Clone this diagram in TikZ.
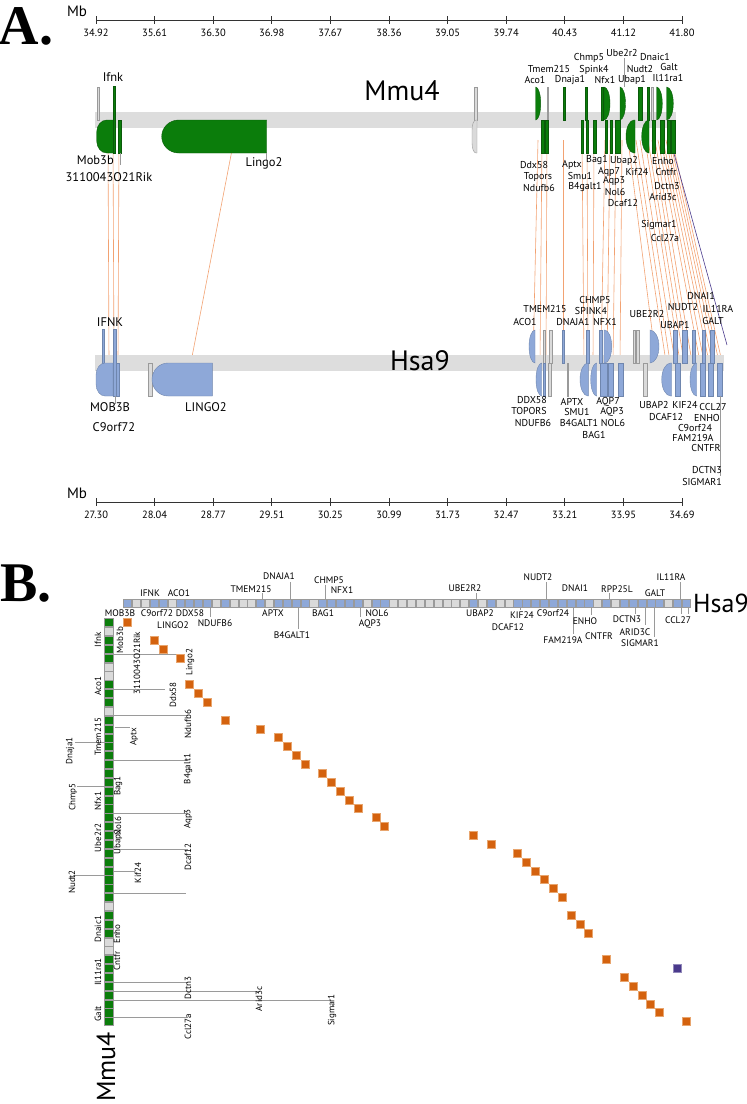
\documentclass[tikz,border=0pt]{standalone}
\usepackage{fontspec}
\setmainfont{PT Sans}
\newfontfamily\serifbf{Liberation Serif}
\definecolor{mgreen}{HTML}{0B7D0B}
\definecolor{mgreendark}{HTML}{0A5A0A}
\definecolor{hblue}{HTML}{8EA8D8}
\definecolor{hbluedark}{HTML}{6F86AE}
\definecolor{ggrey}{HTML}{DADADA}
\definecolor{gdark}{HTML}{9A9A9A}
\definecolor{synorange}{HTML}{F2A272}
\definecolor{bandgrey}{HTML}{DDDDDD}
\definecolor{dotorange}{HTML}{D4620E}
\definecolor{dotedge}{HTML}{E8A56E}
\definecolor{purp}{HTML}{4A3A8C}
\definecolor{tickgrey}{HTML}{9A9A9A}
\tikzset{
 lab/.style={font=\fontsize{10}{11}\selectfont, inner sep=0pt},
 biglab/.style={font=\fontsize{12.5}{13}\selectfont, inner sep=0pt},
 axlab/.style={font=\fontsize{10.5}{11}\selectfont, inner sep=0pt},
 blab/.style={font=\fontsize{9.5}{10}\selectfont, inner sep=0pt},
 rlab/.style={font=\fontsize{9}{10}\selectfont, inner sep=0pt, rotate=90},
 mm/.style={fill=mgreen, draw=mgreendark, line width=0.4pt},
 hs/.style={fill=hblue, draw=hbluedark, line width=0.4pt},
 gr/.style={fill=ggrey, draw=gdark, line width=0.4pt},
 syn/.style={draw=synorange, line width=0.6pt},
 dotbox/.style={fill=dotorange, draw=dotedge, line width=0.5pt},
 tk/.style={draw=tickgrey, line width=0.5pt},
 axisline/.style={draw=black!80, line width=1pt},
}
\newcommand\gbar[5]{\filldraw[#1] (#2,#4) rectangle (#3,#5);}
\newcommand\gL[7]{\filldraw[#1] (#3,#4) -- ({#2+#6},#4) arc[start angle=270,end angle=180,x radius=#6,y radius=#7] -- (#2,{#5-#7}) arc[start angle=180,end angle=90,x radius=#6,y radius=#7] -- (#3,#5) -- cycle;}
\newcommand\gR[7]{\filldraw[#1] (#2,#4) -- ({#3-#6},#4) arc[start angle=270,end angle=360,x radius=#6,y radius=#7] -- (#3,{#5-#7}) arc[start angle=0,end angle=90,x radius=#6,y radius=#7] -- (#2,#5) -- cycle;}
\begin{document}
\begin{tikzpicture}[x=1pt,y=-1pt]
\useasboundingbox (0,0) rectangle (747,1104);
% ---------- A ----------
\node[font=\serifbf\bfseries\fontsize{56}{56}\selectfont, inner sep=0pt] (labA) at (26,26) {A.};
\node[font=\fontsize{15}{15}\selectfont, inner sep=0pt] (mbtop) at (77,11) {Mb};
\draw[axisline] (96,20) coordinate (ta0) -- (682,20) coordinate (ta1);
\foreach \l [count=\i from 0] in {34.92,35.61,36.30,36.98,37.67,38.36,39.05,39.74,40.43,41.12,41.80}{
  \draw[black!80, line width=0.8pt] ({96+58.6*\i},16) -- ({96+58.6*\i},24);
  \node[axlab] (tl\i) at ({96+58.6*\i},33) {\l};
}
% synteny lines
\foreach \a/\b [count=\k] in {108/109,113/114,119/118,538/533,542/540,547/546,563/563,582/584,587/588,594/593,605/601,610/607,616/613,622/620,628/656,632/666,636/670,640/675,645/680,648/684,652/688,655/692,658/700,661/704,663/709,666/712,668/716,670/719,672/722}{
  \coordinate (ms\k) at (\a,140);
  \coordinate (hs\k) at (\b,362);
  \draw[syn] (ms\k) -- (hs\k);
}
\coordinate (msL) at (232,150); \coordinate (hsL) at (191,362);
\draw[syn] (msL) -- (hsL);
\coordinate (msP) at (673,150); \coordinate (hsP) at (727,345);
\draw[purp, line width=0.6pt] (msP) -- (hsP);
% Mmu4 band and genes
\fill[bandgrey] (95,112) rectangle (676,128);
\node[font=\fontsize{28}{28}\selectfont, inner sep=0pt] (mmu4) at (402,91) {Mmu4};
\gbar{gr}{97}{99.5}{87}{120}
\gL{mm}{96.7}{113.5}{120}{153}{10}{12}
\gbar{mm}{113.5}{115.5}{86}{153}
\gbar{mm}{117.7}{121}{120}{153}
\gL{mm}{161.7}{266.7}{120}{153}{17}{16.5}
\gbar{gr}{474}{477}{87}{120}
\gL{gr}{472}{477}{120}{153}{4}{10}
\draw[tk] (266.7,153) -- (266.7,160);
\draw[tk] (120,153) -- (120,165);
% top strand right cluster
\gR{mm}{535.7}{540.7}{87}{120}{5}{16.5}
\gbar{gr}{546.7}{548.5}{87}{120}
\gbar{mm}{562.7}{564.7}{87}{120}
\gbar{mm}{585}{587.5}{87}{120}
\gbar{mm}{601}{603.5}{87}{120}
\gR{mm}{604}{610}{87}{120}{6}{16.5}
\gR{mm}{620}{625.5}{87}{120}{5.5}{16.5}
\gbar{mm}{638}{641.7}{87}{120}
\gbar{mm}{646.7}{649}{87}{120}
\gbar{gr}{650.7}{652.7}{87}{120}
\gR{mm}{656.7}{662.3}{87}{120}{5.6}{16.5}
\gR{mm}{666.7}{673.3}{87}{120}{6.6}{16.5}
\draw[tk] (624,58) -- (624,87);
% bottom strand right cluster
\gbar{mm}{541}{543.7}{120}{153}
\gbar{mm}{545}{548.3}{120}{153}
\gbar{mm}{581}{583.3}{120}{153}
\gbar{mm}{586}{588.3}{120}{153}
\gbar{mm}{592.7}{595.7}{120}{153}
\gbar{mm}{605}{607.3}{120}{153}
\gbar{mm}{610}{612.3}{120}{153}
\gbar{mm}{615}{620}{120}{153}
\gL{mm}{626}{635}{120}{153}{8}{16.5}
\gL{mm}{641.7}{649}{120}{153}{7}{16.5}
\gbar{mm}{652}{655}{120}{153}
\gbar{mm}{660}{664}{120}{153}
\gbar{mm}{666.7}{670}{120}{153}
\gbar{mm}{671}{675}{120}{153}
% Mmu4 labels
\node[biglab] (m-ifnk) at (113,77) {Ifnk};
\node[biglab, anchor=east] (m-mob3b) at (114,160) {Mob3b};
\node[biglab] (m-rik) at (109,177) {3110043O21Rik};
\node[biglab] (m-lingo2) at (264,163) {Lingo2};
\node[lab] (m-tmem215) at (549,69) {Tmem215};
\node[lab] (m-aco1) at (535,80) {Aco1};
\node[lab] (m-dnaja1) at (570,80) {Dnaja1};
\node[lab] (m-chmp5) at (589,58) {Chmp5};
\node[lab] (m-spink4) at (594,70) {Spink4};
\node[lab] (m-nfx1) at (605,80) {Nfx1};
\node[lab] (m-ube2r2) at (622,53) {Ube2r2};
\node[lab] (m-nudt2) at (640,69) {Nudt2};
\node[lab] (m-ubap1) at (632,80) {Ubap1};
\node[lab] (m-dnaic1) at (655,57) {Dnaic1};
\node[lab] (m-galt) at (669,67) {Galt};
\node[lab] (m-il11ra1) at (668,78) {Il11ra1};
\node[lab] (m-ddx58) at (534,165) {Ddx58};
\node[lab] (m-topors) at (538,177) {Topors};
\node[lab] (m-ndufb6) at (539,188) {Ndufb6};
\node[lab] (m-aptx) at (572,165) {Aptx};
\node[lab] (m-bag1) at (597,160) {Bag1};
\node[lab] (m-smu1) at (580,176) {Smu1};
\node[lab] (m-b4galt1) at (585,187) {B4galt1};
\node[lab] (m-aqp7) at (609,172) {Aqp7};
\node[lab] (m-ubap2) at (624,161) {Ubap2};
\node[lab] (m-aqp3) at (614,181) {Aqp3};
\node[lab] (m-nol6) at (615,192) {Nol6};
\node[lab] (m-kif24) at (637,172) {Kif24};
\node[lab] (m-enho) at (663,161) {Enho};
\node[lab] (m-cntfr) at (666,172) {Cntfr};
\node[lab] (m-dctn3) at (667,186) {Dctn3};
\node[lab] (m-arid3c) at (663,197) {Arid3c};
\node[lab] (m-dcaf12) at (623,203) {Dcaf12};
\node[lab] (m-sigmar1) at (659,225) {Sigmar1};
\node[lab] (m-ccl27a) at (665,238) {Ccl27a};
% Hsa9 band and genes
\fill[bandgrey] (95,355) rectangle (724,371);
\node[font=\fontsize{28}{28}\selectfont, inner sep=0pt] (hsa9a) at (420,361) {Hsa9};
\gbar{hs}{101.7}{104.3}{329}{363}
\gbar{hs}{113}{115.7}{329}{396}
\gL{hs}{96}{113}{363}{396}{9}{12}
\gbar{hs}{115.7}{119}{363}{396}
\gbar{gr}{148}{151.7}{363}{396}
\gL{hs}{152}{212.3}{363}{396}{16}{16.5}
\draw[tk] (115,396) -- (115,404);
% top strand
\gL{hs}{529}{535}{330}{363}{6}{16.5}
\gbar{gr}{543}{545}{330}{363}
\gbar{gr}{549}{551.7}{330}{363}
\gbar{hs}{561.7}{564}{330}{363}
\gbar{hs}{586}{589}{330}{363}
\gbar{hs}{599}{602}{330}{363}
\gR{hs}{604}{611.7}{330}{363}{7}{16.5}
\gbar{gr}{633}{635}{330}{363}
\gbar{gr}{636}{639}{330}{363}
\gR{hs}{650}{659}{330}{363}{9}{16.5}
\gbar{hs}{673}{677}{330}{363}
\gbar{hs}{682}{687}{330}{363}
\gbar{hs}{692}{695}{330}{363}
\gbar{hs}{702}{705}{330}{363}
\gbar{hs}{710}{714}{330}{363}
% bottom strand
\gL{hs}{536}{541.7}{363}{396}{5.7}{16.5}
\gbar{hs}{542.7}{545}{363}{396}
\gbar{gr}{548}{550.7}{363}{396}
\gbar{gr}{566.7}{568.3}{363}{396}
\gL{hs}{580}{588.3}{363}{396}{8}{16.5}
\gL{hs}{590.7}{596.7}{363}{396}{6}{16.5}
\gbar{hs}{600}{606.7}{363}{396}
\gbar{hs}{608}{613}{363}{396}
\gbar{hs}{618}{622.7}{363}{396}
\gbar{gr}{643}{646.7}{363}{396}
\gL{hs}{661.7}{671.7}{363}{396}{9}{16.5}
\gbar{hs}{675}{680}{363}{396}
\gL{hs}{690}{696.7}{363}{396}{6.5}{16.5}
\gbar{hs}{700}{705}{363}{396}
\gbar{hs}{708}{713}{363}{396}
\gbar{hs}{716.7}{721.7}{363}{396}
\draw[tk, line width=0.8pt] (720,396) -- (720,476);
% Hsa9 labels
\node[biglab] (h-ifnk) at (110,322) {IFNK};
\node[biglab] (h-mob3b) at (110,407) {MOB3B};
\node[biglab] (h-c9orf72) at (114,427) {C9orf72};
\node[biglab] (h-lingo2) at (206,407) {LINGO2};
\node[lab] (h-dnai1) at (701,296) {DNAI1};
\node[lab] (h-nudt2) at (683,307) {NUDT2};
\node[lab] (h-il11ra) at (718,309) {IL11RA};
\node[lab] (h-ube2r2) at (647,314) {UBE2R2};
\node[lab] (h-galt) at (713,321) {GALT};
\node[lab] (h-ubap1) at (675,325) {UBAP1};
\node[lab] (h-chmp5) at (595,300) {CHMP5};
\node[lab] (h-tmem215) at (545,309) {TMEM215};
\node[lab] (h-spink4) at (591,311) {SPINK4};
\node[lab] (h-aco1) at (525,322) {ACO1};
\node[lab] (h-dnaja1) at (573,322) {DNAJA1};
\node[lab] (h-nfx1) at (605,322) {NFX1};
\node[lab] (h-ddx58) at (532,400) {DDX58};
\node[lab] (h-topors) at (529,411) {TOPORS};
\node[lab] (h-ndufb6) at (533,423) {NDUFB6};
\node[lab] (h-aptx) at (572,402) {APTX};
\node[lab] (h-smu1) at (577,412) {SMU1};
\node[lab] (h-b4galt1) at (579,423) {B4GALT1};
\node[lab] (h-bag1) at (594,435) {BAG1};
\node[lab] (h-aqp7) at (608,402) {AQP7};
\node[lab] (h-aqp3) at (612,412) {AQP3};
\node[lab] (h-nol6) at (613,423) {NOL6};
\node[lab] (h-ubap2) at (654,405) {UBAP2};
\node[lab] (h-dcaf12) at (666,417) {DCAF12};
\node[lab] (h-kif24) at (685,405) {KIF24};
\node[lab] (h-ccl27) at (713,407) {CCL27};
\node[lab] (h-enho) at (707,418) {ENHO};
\node[lab] (h-c9orf24) at (695,428) {C9orf24};
\node[lab] (h-fam219a) at (693,438) {FAM219A};
\node[lab] (h-cntfr) at (706,448) {CNTFR};
\node[lab] (h-dctn3) at (707,470) {DCTN3};
\node[lab] (h-sigmar1) at (702,482) {SIGMAR1};
% bottom axis
\node[font=\fontsize{15}{15}\selectfont, inner sep=0pt] (mbbot) at (77,493) {Mb};
\draw[axisline] (96,502) coordinate (ba0) -- (682,502) coordinate (ba1);
\foreach \l [count=\i from 0] in {27.30,28.04,28.77,29.51,30.25,30.99,31.73,32.47,33.21,33.95,34.69}{
  \draw[black!80, line width=0.8pt] ({96+58.6*\i},498) -- ({96+58.6*\i},506);
  \node[axlab] (bl\i) at ({96+58.6*\i},515) {\l};
}
% ---------- B ----------
\node[font=\serifbf\bfseries\fontsize{56}{56}\selectfont, inner sep=0pt] (labB) at (26,584) {B.};
% top row Hsa9 boxes
\foreach \j in {0,...,63}{
  \filldraw[fill=ggrey, draw=gdark, line width=0.4pt] ({123+8.87*\j+0.4},599) rectangle ({123+8.87*(\j+1)-0.4},607.5);
}
\foreach \j in {0,3,4,6,7,8,9,11,15,17,18,19,20,22,23,24,25,26,28,29,39,41,44,45,46,47,48,49,50,51,52,54,56,57,58,59,60,62,63}{
  \filldraw[fill=hblue, draw=gdark, line width=0.4pt] ({123+8.87*\j+0.4},599) rectangle ({123+8.87*(\j+1)-0.4},607.5);
}
\node[font=\fontsize{26}{26}\selectfont, inner sep=0pt, anchor=west] (hsa9b) at (693,603) {Hsa9};
% left column Mmu4 boxes
\foreach \i in {0,...,45}{
  \filldraw[fill=mgreen, draw=gdark, line width=0.4pt] (104.3,{618+8.87*\i+0.4}) rectangle (113.3,{618+8.87*(\i+1)-0.4});
}
\foreach \i in {1,5,6,10,32,36,37}{
  \filldraw[fill=ggrey, draw=gdark, line width=0.4pt] (104.3,{618+8.87*\i+0.4}) rectangle (113.3,{618+8.87*(\i+1)-0.4});
}
\node[font=\fontsize{26}{26}\selectfont, inner sep=0pt, rotate=90] (mmu4b) at (106,1067) {Mmu4};
% tick lines B (right of column)
\foreach \yy/\xx in {654/180,689/165,715/188,760/188,813/188,849/188,871/135,893/186,982/188,991/260,1000/330,1017/188}{
  \draw[tk] (113.3,\yy) -- (\xx,\yy);
}
\draw[tk] (115,727) -- (130,727);
\foreach \yy/\xx in {742/75,786/77,875/73}{
  \draw[tk] (\xx,\yy) -- (104.3,\yy);
}
% tick lines B (top row)
\foreach \xx/\ya/\yb in {262/593/599,290/582/599,325/585/599,476/593/599,546/582/599,609/593/599,680/582/599}{
  \draw[tk] (\xx,\ya) -- (\xx,\yb);
}
\foreach \xx/\yb in {210/617,298/629,360/617,520/610,573/634,591/615,635/614,645/625,654/637,681/614,688/614}{
  \draw[tk] (\xx,607.5) -- (\xx,\yb);
}
% dots
\foreach \i/\j in {0/0,2/3,3/4,4/6,7/7,8/8,9/9,11/11,12/15,13/17,14/18,15/19,16/20,17/22,18/23,19/24,20/25,21/26,22/28,23/29,24/39,25/41,26/44,27/45,28/46,29/47,30/48,31/49,33/50,34/51,35/52,38/54,40/56,41/57,42/58,43/59,44/60,45/63}{
  \filldraw[dotbox] ({127.4+8.87*\j-4},{622.4+8.87*\i-4}) rectangle ({127.4+8.87*\j+4},{622.4+8.87*\i+4});
}
\filldraw[fill=purp, draw=purp!60, line width=0.5pt] ({127.4+8.87*62-4},{622.4+8.87*39-4}) rectangle ({127.4+8.87*62+4},{622.4+8.87*39+4});
% top row labels
\node[blab] (b-ifnk) at (150,593) {IFNK};
\node[blab] (b-aco1) at (179,593) {ACO1};
\node[blab] (b-tmem215) at (251,589) {TMEM215};
\node[blab] (b-dnaja1) at (279,576) {DNAJA1};
\node[blab] (b-chmp5) at (329,580) {CHMP5};
\node[blab] (b-nfx1) at (342,590) {NFX1};
\node[blab] (b-ube2r2) at (465,588) {UBE2R2};
\node[blab] (b-nudt2) at (538,577) {NUDT2};
\node[blab] (b-dnai1) at (575,588) {DNAI1};
\node[blab] (b-rpp25l) at (617,589) {RPP25L};
\node[blab] (b-galt) at (655,593) {GALT};
\node[blab] (b-il11ra) at (671,577) {IL11RA};
\node[blab] (b-mob3b) at (120,613) {MOB3B};
\node[blab] (b-c9orf72) at (157,613) {C9orf72};
\node[blab] (b-lingo2) at (173,625) {LINGO2};
\node[blab] (b-ddx58) at (190,613) {DDX58};
\node[blab] (b-ndufb6) at (215,623) {NDUFB6};
\node[blab] (b-aptx) at (273,613) {APTX};
\node[blab] (b-b4galt1) at (292,635) {B4GALT1};
\node[blab] (b-bag1) at (323,613) {BAG1};
\node[blab] (b-nol6) at (377,613) {NOL6};
\node[blab] (b-aqp3) at (370,624) {AQP3};
\node[blab] (b-ubap2) at (480,613) {UBAP2};
\node[blab] (b-dcaf12) at (508,627) {DCAF12};
\node[blab] (b-kif24) at (522,615) {KIF24};
\node[blab] (b-c9orf24) at (553,613) {C9orf24};
\node[blab] (b-fam219a) at (563,640) {FAM219A};
\node[blab] (b-enho) at (585,621) {ENHO};
\node[blab] (b-cntfr) at (599,636) {CNTFR};
\node[blab] (b-dctn3) at (627,619) {DCTN3};
\node[blab] (b-arid3c) at (635,632) {ARID3C};
\node[blab] (b-sigmar1) at (640,643) {SIGMAR1};
\node[blab] (b-ccl27) at (678,620) {CCL27};
% left column labels
\node[rlab] (c-ifnk) at (98,640) {Ifnk};
\node[rlab] (c-aco1) at (98,686) {Aco1};
\node[rlab] (c-tmem215) at (98,737) {Tmem215};
\node[rlab] (c-dnaja1) at (70,751) {Dnaja1};
\node[rlab] (c-chmp5) at (73,797) {Chmp5};
\node[rlab] (c-nfx1) at (98,801) {Nfx1};
\node[rlab] (c-ube2r2) at (98,838) {Ube2r2};
\node[rlab] (c-nudt2) at (72,882) {Nudt2};
\node[rlab] (c-dnaic1) at (98,929) {Dnaic1};
\node[rlab] (c-il11ra1) at (98,972) {Il11ra1};
\node[rlab] (c-galt) at (98,1014) {Galt};
\node[rlab] (c-mob3b) at (120,640) {Mob3b};
\node[rlab] (c-rik) at (137,663) {3110043O21Rik};
\node[rlab] (c-lingo2) at (190,662) {Lingo2};
\node[rlab] (c-ddx58) at (173,695) {Ddx58};
\node[rlab] (c-ndufb6) at (188,724) {Ndufb6};
\node[rlab] (c-aptx) at (134,737) {Aptx};
\node[rlab] (c-b4galt1) at (188,769) {B4galt1};
\node[rlab] (c-bag1) at (118,786) {Bag1};
\node[rlab] (c-aqp3) at (188,819) {Aqp3};
\node[rlab] (c-nol6) at (118,826) {Nol6};
\node[rlab] (c-ubap2) at (118,842) {Ubap2};
\node[rlab] (c-dcaf12) at (188,857) {Dcaf12};
\node[rlab] (c-kif24) at (138,873) {Kif24};
\node[rlab] (c-enho) at (117,934) {Enho};
\node[rlab] (c-cntfr) at (117,961) {Cntfr};
\node[rlab] (c-dctn3) at (188,988) {Dctn3};
\node[rlab] (c-arid3c) at (259,999) {Arid3c};
\node[rlab] (c-sigmar1) at (332,1010) {Sigmar1};
\node[rlab] (c-ccl27a) at (188,1027) {Ccl27a};
\end{tikzpicture}
\end{document}
